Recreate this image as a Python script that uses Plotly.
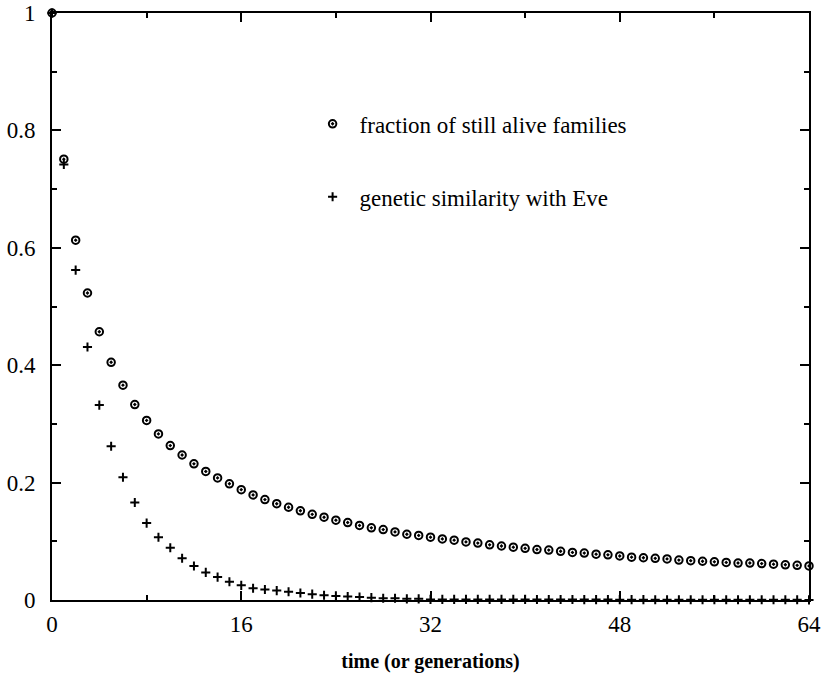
import plotly.graph_objects as go

t = list(range(65))
families = [1.0, 0.751, 0.613, 0.523, 0.457, 0.405, 0.366, 0.333, 0.306, 0.283,
            0.263, 0.247, 0.232, 0.219, 0.208, 0.198, 0.188, 0.179, 0.171, 0.164,
            0.158, 0.152, 0.146, 0.141, 0.136, 0.132, 0.127, 0.123, 0.120, 0.116,
            0.112, 0.110, 0.107, 0.104, 0.102, 0.099, 0.097, 0.094, 0.092, 0.090,
            0.088, 0.086, 0.085, 0.083, 0.081, 0.080, 0.078, 0.077, 0.075, 0.073,
            0.072, 0.071, 0.070, 0.068, 0.067, 0.066, 0.065, 0.064, 0.063, 0.063,
            0.062, 0.061, 0.060, 0.059, 0.058]
eve = [1.0, 0.742, 0.562, 0.431, 0.332, 0.262, 0.209, 0.166, 0.131, 0.107,
       0.089, 0.071, 0.058, 0.047, 0.039, 0.031, 0.025, 0.020, 0.018, 0.016,
       0.014, 0.012, 0.010, 0.008, 0.007, 0.006, 0.005, 0.004, 0.003, 0.003,
       0.002, 0.002, 0.001, 0.001, 0.001, 0.001, 0.001, 0.001, 0.001, 0.001,
       0.001, 0.0008, 0.0008, 0.0008, 0.0008, 0.0007, 0.0007, 0.0007, 0.0006, 0.0006,
       0.0006, 0.0005, 0.0005, 0.0005, 0.0005, 0.0004, 0.0004, 0.0004, 0.0004, 0.0003,
       0.0003, 0.0003, 0.0003, 0.0003, 0.0002]
names = ["fraction of still alive families", "genetic similarity with Eve"]
x_ticks = [0, 16, 32, 48, 64]
y_ticks = [0, 0.2, 0.4, 0.6, 0.8, 1]
y_ticklabels = ["0", "0.2", "0.4", "0.6", "0.8", "1"]

FONT = "'Liberation Serif', 'Times New Roman', Times, serif"

fig = go.Figure()
fig.add_trace(go.Scatter(
    x=t, y=families, mode="markers", name=names[0], legendgroup="a",
    cliponaxis=False,
    marker=dict(symbol="circle-open-dot", size=7.5, color="black",
                line=dict(width=2, color="black")),
))
fig.add_trace(go.Scatter(
    x=t, y=eve, mode="markers", name=names[1], legendgroup="b",
    cliponaxis=False,
    marker=dict(symbol="cross-thin-open", size=6.5, color="black",
                line=dict(width=2, color="black")),
))

axis_common = dict(
    showline=True, linecolor="black", linewidth=2, mirror="ticks",
    ticks="inside", ticklen=9, tickwidth=1.5, tickcolor="black",
    showgrid=False, zeroline=False, automargin=False,
    tickfont=dict(family=FONT, size=23, color="black"),
)
fig.update_xaxes(
    range=[0, 64], tickvals=x_ticks, ticktext=[str(v) for v in x_ticks],
    ticklabelstandoff=2,
    minor=dict(tickvals=[8, 24, 40, 56], ticks="inside", ticklen=5, tickwidth=1.5, tickcolor="black"),
    title=dict(text="<b>time (or generations)</b>", font=dict(family=FONT, size=20, color="black"), standoff=18),
    **axis_common,
)
fig.update_yaxes(
    range=[0, 1], tickvals=y_ticks, ticktext=y_ticklabels,
    ticklabelstandoff=10,
    minor=dict(tickvals=[0.1, 0.3, 0.5, 0.7, 0.9], ticks="inside", ticklen=5, tickwidth=1.5, tickcolor="black"),
    **axis_common,
)
fig.update_layout(
    width=825, height=676,
    margin=dict(l=52, r=16, t=13, b=76),
    plot_bgcolor="white", paper_bgcolor="white",
    font=dict(family=FONT, size=23, color="black"),
    legend=dict(x=0.335, y=0.749, xanchor="left", yanchor="middle",
                bgcolor="rgba(0,0,0,0)", tracegroupgap=40, itemwidth=44,
                font=dict(family=FONT, size=23, color="black")),
)
fig.write_html("out.html")
